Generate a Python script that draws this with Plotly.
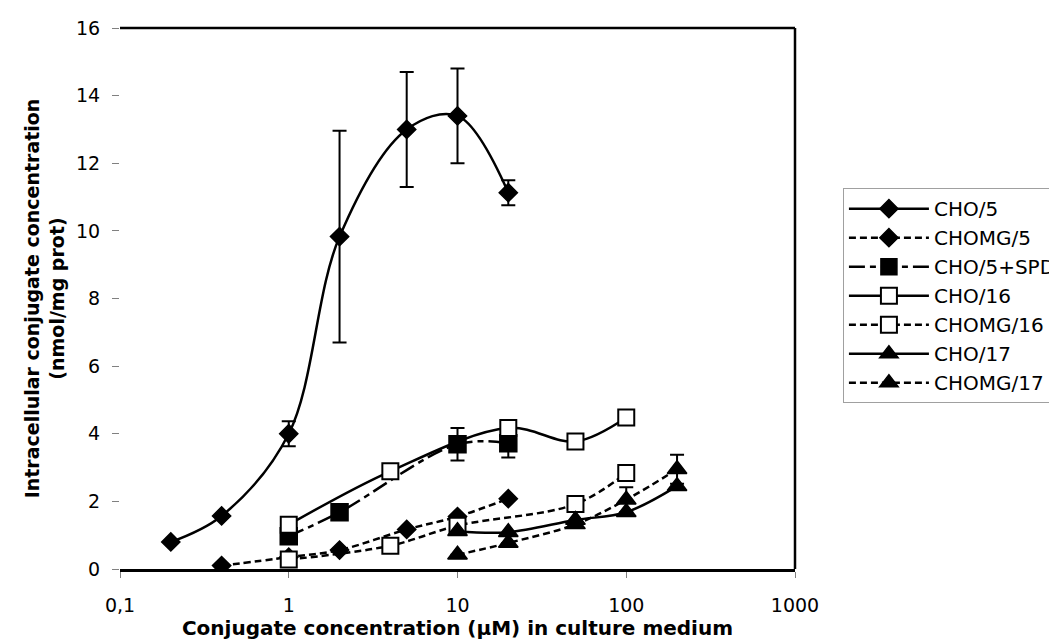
import plotly.graph_objects as go

# ---- data ----
x_cho5 = [0.2, 0.4, 1, 2, 5, 10, 20]
y_cho5 = [0.80, 1.57, 4.0, 9.83, 13.0, 13.4, 11.13]
e_cho5 = [0, 0, 0.37, 3.13, 1.7, 1.4, 0.37]

x_chomg5 = [0.4, 1, 2, 5, 10, 20]
y_chomg5 = [0.10, 0.35, 0.56, 1.17, 1.55, 2.08]

x_spd = [1, 2, 10, 20]
y_spd = [0.97, 1.68, 3.69, 3.72]
e_spd = [0, 0, 0.48, 0.42]

x_cho16 = [1, 4, 20, 50, 100]
y_cho16 = [1.31, 2.89, 4.17, 3.77, 4.48]

x_chomg16 = [1, 4, 10, 50, 100]
y_chomg16 = [0.28, 0.69, 1.28, 1.92, 2.84]

x_cho17 = [10, 20, 50, 100, 200]
y_cho17 = [1.12, 1.09, 1.45, 1.68, 2.45]

x_chomg17 = [10, 20, 50, 100, 200]
y_chomg17 = [0.42, 0.77, 1.32, 2.05, 2.95]
e_chomg17 = [0, 0, 0, 0.37, 0.43]

x_tickvals = [0.1, 1, 10, 100, 1000]
x_ticktext = ["0,1", "1", "10", "100", "1000"]

FONT = "Verdana, DejaVu Sans, sans-serif"
LW = 2.5
SOLID = "solid"
DASH = "7px,4px"
LONGDASH = "16px,5px,6px,5px"

def err(vals):
    return dict(type="data", array=vals, visible=True, color="black",
                thickness=2, width=7)

fig = go.Figure()

series = [
    ("CHO/5", x_cho5, y_cho5, e_cho5, SOLID, "diamond", 14, "black"),
    ("CHOMG/5", x_chomg5, y_chomg5, None, DASH, "diamond", 14, "black"),
    ("CHO/5+SPD", x_spd, y_spd, e_spd, LONGDASH, "square", 17, "black"),
    ("CHO/16", x_cho16, y_cho16, None, SOLID, "square", 16, "white"),
    ("CHOMG/16", x_chomg16, y_chomg16, None, DASH, "square", 16, "white"),
    ("CHO/17", x_cho17, y_cho17, None, SOLID, "triangle-up", 17, "black"),
    ("CHOMG/17", x_chomg17, y_chomg17, e_chomg17, DASH, "triangle-up", 17, "black"),
]

for name, xs, ys, es, dash, sym, size, fill in series:
    fig.add_trace(go.Scatter(
        x=xs, y=ys, name=name, mode="lines+markers",
        line=dict(color="black", width=LW, dash=dash, shape="spline", smoothing=1),
        marker=dict(symbol=sym, size=size, color=fill,
                    line=dict(color="black", width=2 if fill == "white" else 1.5)),
        error_y=err(es) if es is not None else None,
    ))

fig.update_layout(
    width=1057, height=639,
    paper_bgcolor="white", plot_bgcolor="white",
    margin=dict(l=112, r=270, t=20, b=78, autoexpand=False),
    font=dict(family=FONT, size=19, color="black"),
    showlegend=True,
    legend=dict(x=1.071, y=0.704, xanchor="left", yanchor="top",
                bordercolor="#a0a0a0", borderwidth=1,
                font=dict(family=FONT, size=20, color="black"),
                itemwidth=80, tracegroupgap=0, bgcolor="white"),
    xaxis=dict(type="log", range=[-1, 3], tickvals=x_tickvals, ticktext=x_ticktext,
               showgrid=False, zeroline=False, showline=True, linecolor="black",
               linewidth=3, ticks="outside", ticklen=6, tickcolor="#808080",
               tickwidth=1, ticklabelstandoff=11,
               tickfont=dict(family=FONT, size=19),
               title=dict(text="<b>Conjugate concentration (µM) in culture medium</b>",
                          font=dict(family=FONT, size=20), standoff=5)),
    yaxis=dict(range=[0, 16], dtick=2, showgrid=False, zeroline=False,
               showline=False, ticks="outside", ticklen=7, tickcolor="#808080",
               tickwidth=1, ticklabelstandoff=8,
               tickfont=dict(family=FONT, size=19),
               title=dict(text="<b>Intracellular conjugate concentration<br>(nmol/mg prot)</b>",
                          font=dict(family=FONT, size=19), standoff=6)),
    shapes=[
        dict(type="line", xref="paper", yref="paper", x0=0, x1=1, y0=1, y1=1,
             line=dict(color="black", width=2.5)),
        dict(type="line", xref="paper", yref="paper", x0=1, x1=1, y0=0, y1=1,
             line=dict(color="black", width=2.5)),
    ],
)

fig.write_html("out.html")
